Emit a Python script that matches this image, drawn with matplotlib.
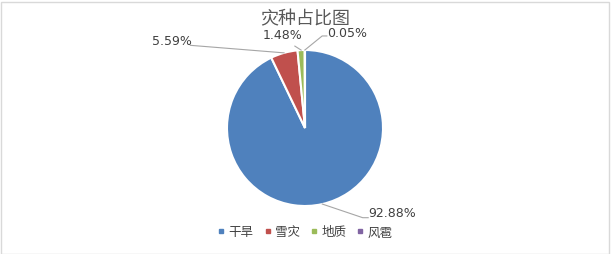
import matplotlib
matplotlib.use("Agg")
import numpy as np
import matplotlib.pyplot as plt
from matplotlib.lines import Line2D
from matplotlib.patches import Rectangle

plt.rcParams['font.family'] = ['Noto Sans CJK SC', 'DejaVu Sans']

categories = ['干旱', '雪灾', '地质', '风雹']
values = [92.88, 5.59, 1.48, 0.05]
colors = ['#4F81BD', '#C0504D', '#9BBB59', '#8064A2']
# label text positions (in pie-radius units) and leader line points
label_pos = [(0.81, -1.08), (-1.96, 1.12), (-0.54, 1.20), (0.28, 1.22)]
leaders = [[(0.74, -1.15), (0.81, -1.15)],
           [(-1.47, 1.06)],
           [(-0.13, 1.05)],
           [(0.22, 1.18), (0.28, 1.18)]]

W, H = 612, 255
fig = plt.figure(figsize=(W / 100, H / 100), dpi=100)
fig.patch.set_facecolor('white')
fig.patches.append(Rectangle((0.5 / W, 0.5 / H), 1 - 4 / W, 1 - 3 / H,
                             transform=fig.transFigure, fill=False,
                             edgecolor='#D9D9D9', lw=1))

cx, cy, r = 305, 129, 78
ax = fig.add_axes([(cx - r) / W, (H - cy - r) / H, 2 * r / W, 2 * r / H])
wedges, _ = ax.pie(values, colors=colors, startangle=90, counterclock=False,
                   wedgeprops=dict(edgecolor='white', linewidth=1.5))
ax.set_xlim(-1, 1)
ax.set_ylim(-1, 1)
ax.set_aspect('equal')
ax.axis('off')

for w, v, (tx, ty), pts in zip(wedges, values, label_pos, leaders):
    mid = np.deg2rad((w.theta1 + w.theta2) / 2)
    xs = [np.cos(mid)] + [p[0] for p in pts]
    ys = [np.sin(mid)] + [p[1] for p in pts]
    ax.plot(xs, ys, color='#A6A6A6', lw=0.8, clip_on=False)
    ax.text(tx, ty, f'{v:.2f}%', fontsize=9, color='#404040',
            ha='left', va='center', clip_on=False, family='DejaVu Sans')

fig.text(cx / W, 1 - 19 / H, '灾种占比图', fontsize=13, color='#595959',
         ha='center', va='center', fontweight='light')

handles = [Line2D([], [], marker='s', linestyle='', markersize=3.5,
                  markerfacecolor=c, markeredgecolor=c) for c in colors]
fig.legend(handles, categories, loc='center', bbox_to_anchor=(cx / W, 1 - 233 / H),
           ncol=4, frameon=False, fontsize=9, handlelength=0.6, handletextpad=0.3,
           columnspacing=0.8, labelcolor='#404040')

fig.savefig('out.png', dpi=100)
